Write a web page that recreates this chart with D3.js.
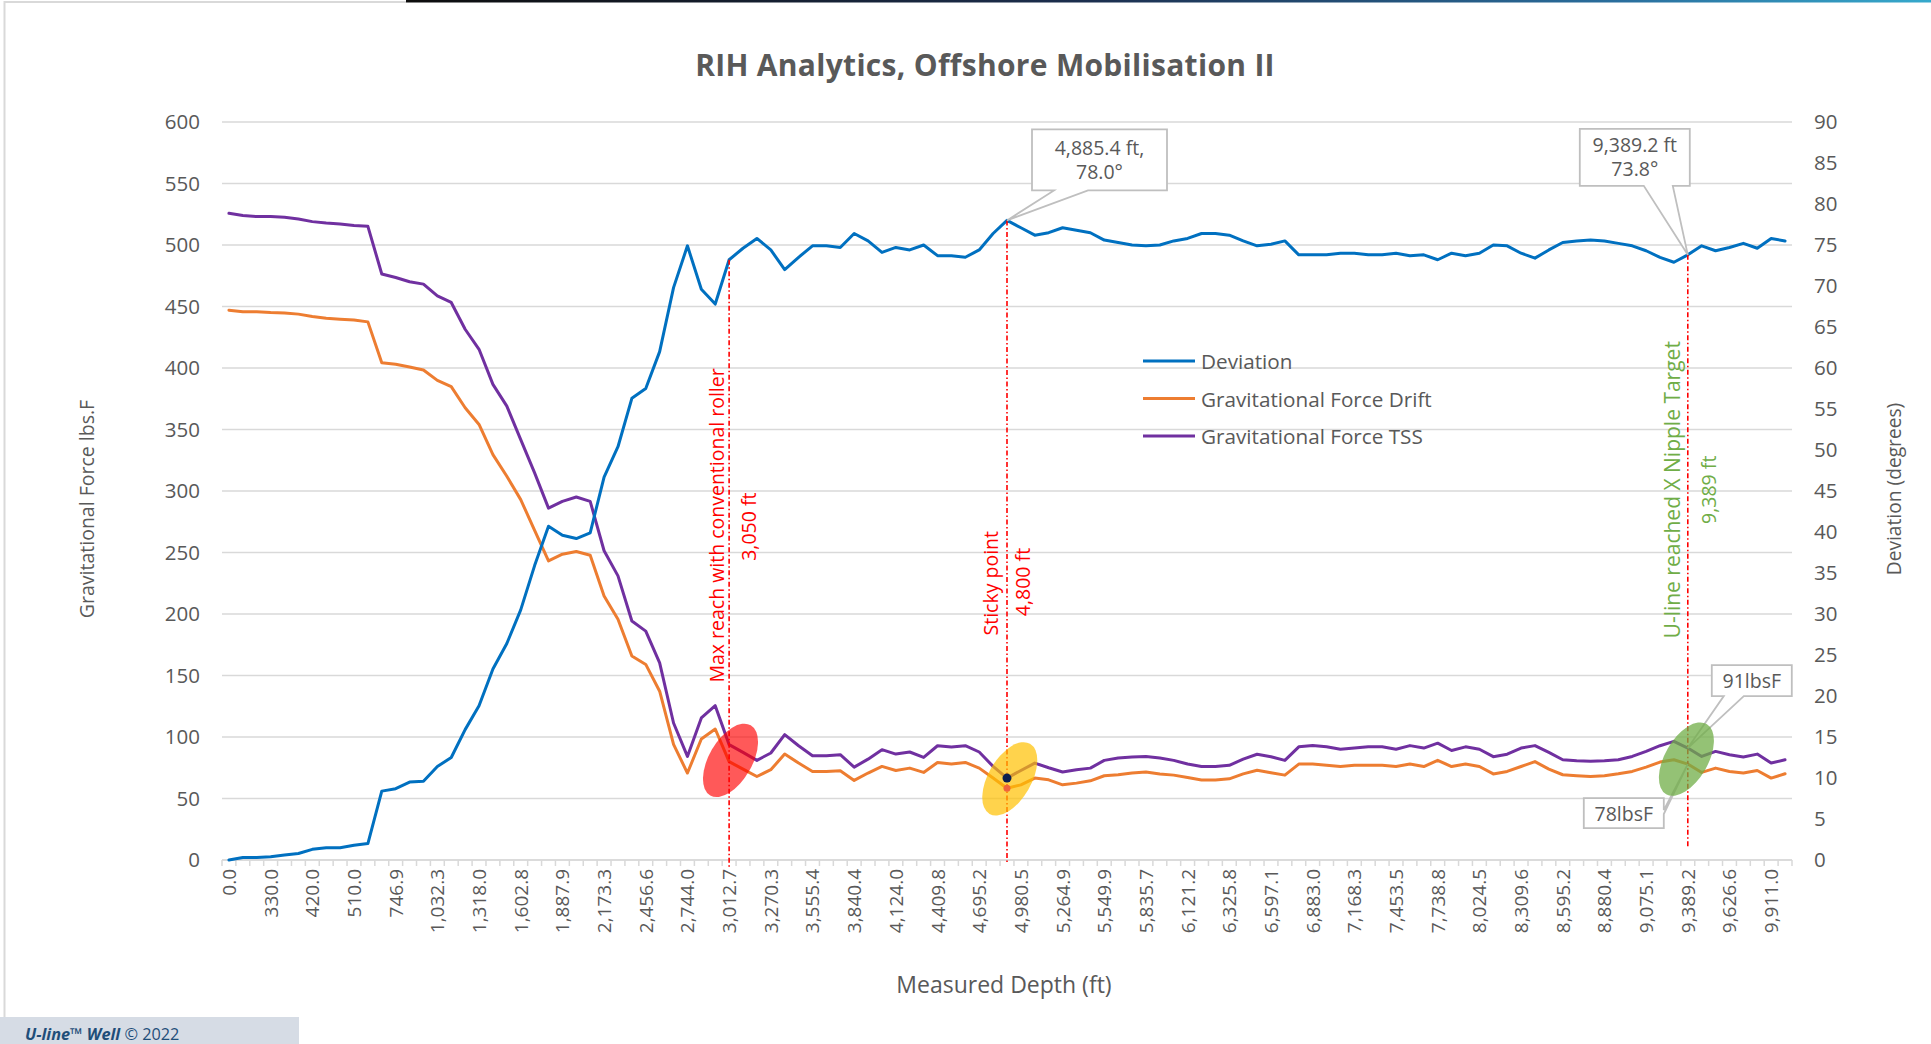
<!DOCTYPE html>
<html><head><meta charset="utf-8">
<script src="https://cdn.jsdelivr.net/npm/d3@7/dist/d3.min.js"></script>
<style>html,body{margin:0;padding:0;background:#fff;overflow:hidden}svg{display:block;font-family:"Open Sans",sans-serif}</style>
</head><body>
<svg id="c" width="1931" height="1044"></svg>
<script>
// ---------------- DATA ----------------
const depthTickLabels = ["0.0","330.0","420.0","510.0","746.9","1,032.3","1,318.0","1,602.8","1,887.9","2,173.3","2,456.6","2,744.0","3,012.7","3,270.3","3,555.4","3,840.4","4,124.0","4,409.8","4,695.2","4,980.5","5,264.9","5,549.9","5,835.7","6,121.2","6,325.8","6,597.1","6,883.0","7,168.3","7,453.5","7,738.8","8,024.5","8,309.6","8,595.2","8,880.4","9,075.1","9,389.2","9,626.6","9,911.0"];
const tickEvery = 3;
const deviation = [
 0,0.3,0.3,0.4,0.6,0.8,1.3,1.5,1.5,1.8,
 2.0,8.4,8.7,9.5,9.6,11.4,12.5,15.9,18.8,23.3,
 26.4,30.5,35.9,40.7,39.6,39.2,39.9,46.7,50.4,56.3,
 57.5,62.0,69.8,74.9,69.6,67.8,73.2,74.6,75.8,74.4,
 72.0,73.5,74.9,74.9,74.7,76.4,75.5,74.1,74.7,74.4,
 75.0,73.7,73.7,73.5,74.4,76.4,78.0,77.1,76.2,76.5,
 77.1,76.8,76.5,75.6,75.3,75.0,74.9,75.0,75.5,75.8,
 76.4,76.4,76.2,75.5,74.9,75.1,75.5,73.8,73.8,73.8,
 74.0,74.0,73.8,73.8,74.0,73.7,73.8,73.2,74.0,73.7,
 74.0,75.0,74.9,74.0,73.4,74.4,75.3,75.5,75.6,75.5,
 75.2,74.9,74.3,73.5,72.9,73.8,74.9,74.3,74.7,75.2,
 74.6,75.8,75.5];
const gravForceDrift = [
 447,445.7,445.7,445.1,444.8,443.8,441.8,440.5,439.7,439.1,
 437.5,404.3,403,400.8,398.4,389.9,384.8,367.7,354.1,329.6,
 312,293,268,243.2,248.6,250.8,247.8,214.7,195.7,165.8,
 159,137.2,94,70.7,98.4,106.5,80,73.9,67.9,73.4,
 86.1,78.8,72,72,72.6,64.7,70.7,76.1,72.8,74.7,
 71.2,79.3,78,79.3,74.7,66.6,58.4,61.1,66.6,65.2,
 61.1,62.5,64.4,68.5,69.3,70.7,71.5,70,69,67,
 65,65,66,70,73,71,69,78,78,77,
 76,77,77,77,76,78,76,81,76,78,
 76,70,72,76,80,73.9,69.3,68.5,67.9,68.5,
 70.1,72,75.5,79.6,81.5,78,71.2,74.7,72,70.7,
 72.8,66.6,70.1];
const gravForceTSS = [
 525.8,523.9,523.1,523.1,522.6,521.2,519,517.9,517.1,515.8,
 515.2,476.4,473.6,470.1,468.2,458.7,453.3,431.5,415.2,386.7,
 369,341.8,314.7,286.1,291.6,295.1,291.6,251.4,231,194.3,
 186.1,160.3,111.4,84.2,115.5,125.5,93.8,87.5,81,87,
 101.9,92.9,84.8,84.8,85.6,75.5,82,89.7,86.1,87.8,
 83.4,92.9,91.8,92.9,87.8,76.1,66.6,72.8,78.8,75,
 71.5,73.4,74.7,81,82.9,83.7,84.2,83,81,78,
 76,76,77,82,86,84,81,92,93,92,
 90,91,92,92,90,93,91,95,89,92,
 90,84,86,91,93,87.5,81.5,80.7,80.2,80.7,
 81.5,84.2,88.3,92.9,96.5,91,84.2,88.3,85.6,83.7,
 86.1,78.8,81.5];
const seriesNames = ["Deviation","Gravitational Force Drift","Gravitational Force TSS"];
const forceTicks = [0,50,100,150,200,250,300,350,400,450,500,550,600];
const degreeTicks = [0,5,10,15,20,25,30,35,40,45,50,55,60,65,70,75,80,85,90];
const markerIdx = [36,56,105];           // category indices of the vertical markers
const markerTexts = [["Max reach with conventional roller","3,050 ft"],["Sticky point","4,800 ft"],["U-line reached X Nipple Target","9,389 ft"]];
const calloutTexts = [["4,885.4 ft,","78.0°"],["9,389.2 ft","73.8°"],["91lbsF"],["78lbsF"]];

// ---------------- LAYOUT ----------------
const colors = {dev:"#0070C0", drift:"#ED7D31", tss:"#7030A0", grid:"#D9D9D9", text:"#595959"};
const P = {l:222, r:1792, t:122, b:860};
const svg = d3.select("#c");
const n = deviation.length;
const x = d3.scaleBand().domain(d3.range(n)).range([P.l,P.r]).paddingInner(0).paddingOuter(0);
const cx = i => x(i) + x.bandwidth()/2;
const yL = d3.scaleLinear().domain([0,600]).range([P.b,P.t]);
const yR = d3.scaleLinear().domain([0,90]).range([P.b,P.t]);

// frame decorations
const defs = svg.append("defs");
const g0 = defs.append("linearGradient").attr("id","topbar");
[["0%","#0d0d0d"],["45%","#1c2f4f"],["80%","#2a6f9e"],["100%","#36a9cc"]].forEach(s=>g0.append("stop").attr("offset",s[0]).attr("stop-color",s[1]));
svg.append("line").attr("x1",4).attr("x2",406).attr("y1",2).attr("y2",2).attr("stroke","#D9D9D9").attr("stroke-width",2);
svg.append("rect").attr("x",406).attr("y",0).attr("width",1931-406).attr("height",2.5).attr("fill","url(#topbar)");
svg.append("line").attr("x1",4.5).attr("x2",4.5).attr("y1",1).attr("y2",1017).attr("stroke","#D9D9D9").attr("stroke-width",2);

// gridlines
svg.append("g").selectAll("line").data(forceTicks).join("line")
  .attr("x1",P.l).attr("x2",P.r).attr("y1",d=>yL(d)).attr("y2",d=>yL(d))
  .attr("stroke",colors.grid).attr("stroke-width",1.5);

// left axis
const ax1 = svg.append("g").attr("transform",`translate(${P.l},0)`)
  .call(d3.axisLeft(yL).tickValues(forceTicks).tickSize(0).tickPadding(22).tickFormat(d3.format("d")));
ax1.select(".domain").remove();
ax1.selectAll("text").attr("fill",colors.text).style("font-size","20.5px").style("font-family","Open Sans");
// right axis
const ax2 = svg.append("g").attr("transform",`translate(${P.r},0)`)
  .call(d3.axisRight(yR).tickValues(degreeTicks).tickSize(0).tickPadding(22).tickFormat(d3.format("d")));
ax2.select(".domain").remove();
ax2.selectAll("text").attr("fill",colors.text).style("font-size","20.5px").style("font-family","Open Sans");

// bottom category axis
const xa = svg.append("g");
xa.append("line").attr("x1",P.l).attr("x2",P.r).attr("y1",P.b).attr("y2",P.b).attr("stroke",colors.grid).attr("stroke-width",1.5);
xa.selectAll("line.tk").data(d3.range(n+1)).join("line").attr("class","tk")
  .attr("x1",i=>P.l+i*x.bandwidth()).attr("x2",i=>P.l+i*x.bandwidth())
  .attr("y1",P.b).attr("y2",P.b+6).attr("stroke",colors.grid).attr("stroke-width",1.5);
xa.selectAll("text").data(depthTickLabels).join("text")
  .attr("transform",(d,k)=>`translate(${cx(k*tickEvery)},${P.b+9}) rotate(-90)`)
  .attr("text-anchor","end").attr("dominant-baseline","central")
  .attr("fill",colors.text).style("font-size","19px").text(d=>d);

// series lines
const lineL = d3.line().x((d,i)=>cx(i)).y(d=>yL(d));
const lineR = d3.line().x((d,i)=>cx(i)).y(d=>yR(d));
const lg = svg.append("g").attr("fill","none").attr("stroke-width",3).attr("stroke-linejoin","round").attr("stroke-linecap","round");
lg.append("path").attr("d",lineL(gravForceDrift)).attr("stroke",colors.drift);
lg.append("path").attr("d",lineL(gravForceTSS)).attr("stroke",colors.tss);
lg.append("path").attr("d",lineR(deviation)).attr("stroke",colors.dev);

// vertical marker lines
const lineEnds = [P.b+8, P.b+3, P.b-12];
const mg = svg.append("g");
markerIdx.forEach((mi,k)=>{
  mg.append("line").attr("x1",cx(mi)).attr("x2",cx(mi)).attr("y1",yR(deviation[mi])).attr("y2",lineEnds[k])
    .attr("stroke","#FF0000").attr("stroke-width",1.6).attr("stroke-dasharray","5,2.5,1.5,2.5");
});

// callouts
function callout(bx,by,w,h,wedge){
  let p;
  if(wedge.side==="bottom"){
    p=`M${bx},${by}H${bx+w}V${by+h}H${wedge.b2}L${wedge.tx},${wedge.ty}L${wedge.b1},${by+h}H${bx}Z`;
  } else {
    p=`M${bx},${by}H${bx+w}V${wedge.b1}L${wedge.tx},${wedge.ty}L${bx+w},${wedge.b2}V${by+h}H${bx}Z`;
  }
  svg.append("path").attr("d",p).attr("fill","#fff").attr("stroke","#BFBFBF").attr("stroke-width",1.8);
}
function boxText(lines,cxp,cy0,dy,size){
  lines.forEach((t,k)=>svg.append("text").attr("x",cxp).attr("y",cy0+k*dy).attr("text-anchor","middle")
    .attr("dominant-baseline","central").attr("fill",colors.text).style("font-size",size+"px").text(t));
}
{ // 4,885.4 ft
  const px=cx(56), py=yR(deviation[56]);
  const bx=px+25, by=py-91, w=135, h=61;
  callout(bx,by,w,h,{side:"bottom",b1:bx+22,b2:bx+56,tx:px,ty:py});
  boxText(calloutTexts[0],bx+w/2,by+18,24,19.5);
}
{ // 9,389.2 ft
  const px=cx(105), py=yR(deviation[105]);
  const bx=px-108, by=py-126, w=110, h=57;
  callout(bx,by,w,h,{side:"bottom",b1:bx+w-46,b2:bx+w-17,tx:px,ty:py});
  boxText(calloutTexts[1],bx+w/2,by+16,24,19.5);
}
{ // 91lbsF
  const px=cx(105), py=yL(gravForceTSS[105]);
  const bx=px+24, by=py-83, w=80, h=31;
  callout(bx,by,w,h,{side:"bottom",b1:bx+12,b2:bx+32,tx:px,ty:py});
  boxText(calloutTexts[2],bx+w/2,by+h/2,0,19.5);
}
{ // 78lbsF
  const px=cx(105), py=yL(gravForceDrift[105]);
  const bx=px-104, by=py+34, w=80, h=30;
  callout(bx,by,w,h,{side:"right",b1:by+12,b2:by+16,tx:px,ty:py});
  boxText(calloutTexts[3],bx+w/2,by+h/2,0,19.5);
}

// highlight ellipses
const ellipses = [
  {i:36.1, v:81, fill:"#FF0000", op:0.65},
  {i:56.2, v:66, fill:"#FFC000", op:0.7},
  {i:104.9, v:82, fill:"#70AD47", op:0.75}];
ellipses.forEach(e=>{
  const ex = P.l + (e.i+0.5)*x.bandwidth(), ey = yL(e.v);
  svg.append("ellipse").attr("cx",0).attr("cy",0).attr("rx",21.5).attr("ry",40.5)
    .attr("transform",`translate(${ex},${ey}) rotate(30)`)
    .attr("fill",e.fill).attr("fill-opacity",e.op);
});
// sticky-point dots
svg.append("circle").attr("cx",cx(56)).attr("cy",yL(gravForceDrift[56])).attr("r",3.5).attr("fill","#F0643C");
svg.append("circle").attr("cx",cx(56)).attr("cy",yL(gravForceTSS[56])).attr("r",4.5).attr("fill","#0D1F4F");

// marker labels (rotated)
const markerLabelCfg = [
  {color:"#FF0000", dx:[-13,19], v:[272,271], size:[19.5,19.5]},
  {color:"#FF0000", dx:[-17,15], v:[225,226], size:[19.5,19.5]},
  {color:"#70AD47", dx:[-15.5,20.5], v:[301,301], size:[21,19.5]}];
markerIdx.forEach((mi,k)=>{
  markerTexts[k].forEach((t,j)=>{
    svg.append("text").attr("transform",`translate(${cx(mi)+markerLabelCfg[k].dx[j]},${yL(markerLabelCfg[k].v[j])}) rotate(-90)`)
      .attr("text-anchor","middle").attr("dominant-baseline","central")
      .attr("fill",markerLabelCfg[k].color).style("font-size",markerLabelCfg[k].size[j]+"px").text(t);
  });
});

// legend
const legendColors = [colors.dev, colors.drift, colors.tss];
const leg = svg.append("g");
seriesNames.forEach((s,k)=>{
  const y = 361 + k*37.5;
  leg.append("line").attr("x1",1143).attr("x2",1195).attr("y1",y).attr("y2",y).attr("stroke",legendColors[k]).attr("stroke-width",3);
  leg.append("text").attr("x",1201).attr("y",y).attr("dominant-baseline","central").attr("fill",colors.text).style("font-size","20.7px").text(s);
});

// titles
svg.append("text").attr("x",985).attr("y",64).attr("text-anchor","middle").attr("dominant-baseline","central")
  .attr("fill",colors.text).style("font-size","30px").style("font-weight","700").style("letter-spacing","0.3px").text("RIH Analytics, Offshore Mobilisation II");
svg.append("text").attr("transform","translate(86,509) rotate(-90)").attr("text-anchor","middle").attr("dominant-baseline","central")
  .attr("fill",colors.text).style("font-size","19.5px").text("Gravitational Force lbs.F");
svg.append("text").attr("transform","translate(1893,489) rotate(-90)").attr("text-anchor","middle").attr("dominant-baseline","central")
  .attr("fill",colors.text).style("font-size","19.2px").text("Deviation (degrees)");
svg.append("text").attr("x",1004).attr("y",984).attr("text-anchor","middle").attr("dominant-baseline","central")
  .attr("fill",colors.text).style("font-size","23px").text("Measured Depth (ft)");

// footer
svg.append("rect").attr("x",0).attr("y",1017).attr("width",299).attr("height",27).attr("fill","#D6DCE5");
const ft = svg.append("text").attr("x",25).attr("y",1040).attr("fill","#1F4E79").style("font-size","16.3px");
ft.append("tspan").style("font-style","italic").style("font-weight","700").text("U-line™ Well");
ft.append("tspan").text(" © 2022");
</script>
</body></html>
